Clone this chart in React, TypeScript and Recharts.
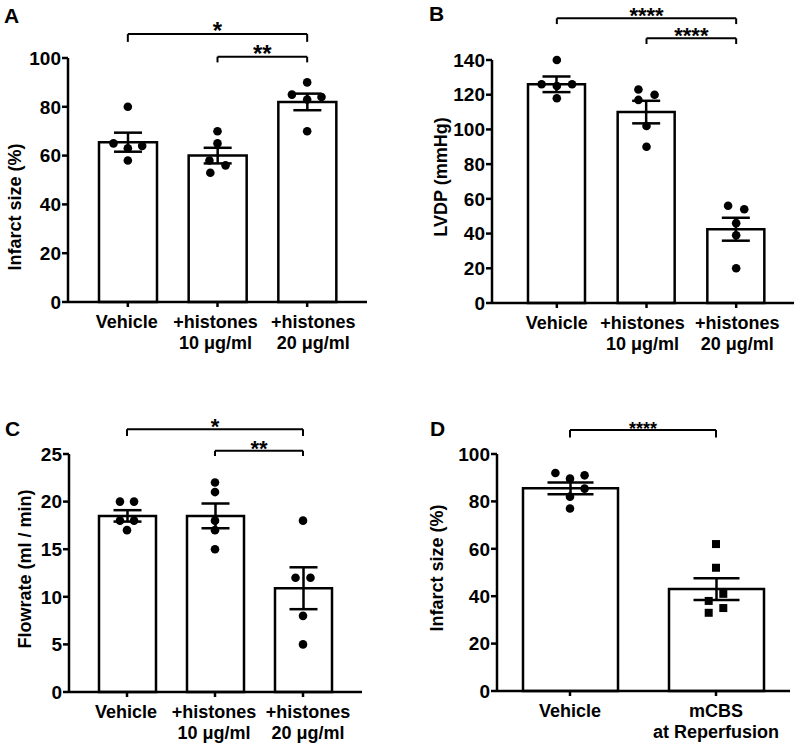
import React from "react";
import {
    ComposedChart,
    Bar,
    ErrorBar,
    Scatter,
    XAxis,
    YAxis,
    ReferenceLine,
} from "recharts";

const FONT = '"Liberation Sans", Arial, Helvetica, sans-serif';

// groups on the x axis
const histoneGroups = ["Vehicle", "+histones\n10 μg/ml", "+histones\n20 μg/ml"];
const mcbsGroups = ["Vehicle", "mCBS\nat Reperfusion"];

// A - infarct size (%)
const infarctMeans = [65.5, 60, 82];
const infarctSems = [3.9, 3.2, 3.4];
const infarctPoints = [
    [80, 65, 63, 64, 58],
    [70, 65, 58, 56, 53],
    [90, 85, 84, 83, 70],
];
const infarctJitter = [
    [0, -0.16, 0, 0.16, 0],
    [0, 0, -0.09, 0.09, -0.08],
    [0, -0.17, 0.16, 0, 0],
];
const infarctTicks = [0, 20, 40, 60, 80, 100];

// B - LVDP (mmHg)
const lvdpMeans = [126, 110, 42.5];
const lvdpSems = [4.5, 6.5, 6.6];
const lvdpPoints = [
    [140, 126, 125, 126, 118],
    [123, 120, 117, 102, 90],
    [56, 54, 46, 39, 20],
];
const lvdpJitter = [
    [0, -0.17, 0, 0.17, 0],
    [-0.09, 0.09, -0.09, 0, 0],
    [-0.09, 0.09, 0, 0, 0],
];
const lvdpTicks = [0, 20, 40, 60, 80, 100, 120, 140];

// C - flowrate (ml / min)
const flowMeans = [18.5, 18.5, 10.9];
const flowSems = [0.6, 1.3, 2.2];
const flowPoints = [
    [20, 20, 18, 18, 17],
    [22, 21, 18, 17, 15],
    [18, 12, 12, 8, 5],
];
const flowJitter = [
    [-0.08, 0.08, -0.08, 0.08, 0],
    [0, 0, 0, 0, 0],
    [0, -0.085, 0.085, 0, 0],
];
const flowTicks = [0, 5, 10, 15, 20, 25];

// D - infarct size (%), mCBS
const mcbsMeans = [85.5, 43];
const mcbsSems = [2.5, 4.6];
const mcbsPoints = [
    [92, 91, 89.6, 85.4, 82, 77],
    [62, 52, 41, 38, 35, 33],
];
const mcbsJitter = [
    [-0.1, 0.1, 0, 0.1, 0, 0],
    [0, 0, 0.05, -0.05, 0.05, -0.05],
];
const mcbsTicks = [0, 20, 40, 60, 80, 100];

type Bracket = { from: number; to: number; y: number; end: number; text: string };

// x tick label, can be nudged sideways so neighbouring labels don't collide
const makeTick = (shift: number[]) => ({ x, y, payload, index }: any) => {
    const lines = String(payload.value).split("\n");
    const cx = x + (shift[index] || 0);
    return (
        <text x={cx} y={y} textAnchor="middle" fontSize={18} fontWeight={700} fill="#000">
            {lines.map((l, i) => (
                <tspan key={i} x={cx} dy={i === 0 ? 19 : 21}>
                    {l}
                </tspan>
            ))}
        </text>
    );
};

const dot = (p: any) => <circle cx={p.cx} cy={p.cy} r={4.3} fill="#000" />;
const square = (p: any) => <rect x={p.cx - 4} y={p.cy - 4} width={8} height={8} fill="#000" />;

interface PanelProps {
    left: number;
    top: number;
    letter: string;
    letterX: number;
    letterY: number;
    yLabel: string;
    titleX: number;
    titleY: number;
    groups: string[];
    means: number[];
    sems: number[];
    points: number[][];
    jitter: number[][];
    markers: string[];
    ticks: number[];
    brackets: Bracket[];
    plot: { l: number; r: number; t: number; b: number };
    pad: { left: number; right: number };
    labelShift: number[];
    barSize: number;
    cap: number;
    starSize: number;
}

const W = 400;
const H = 377;
const XH = 40;

function Panel(p: PanelProps) {
    const data = p.groups.map((g, i) => ({ name: g, mean: p.means[i], sem: p.sems[i] }));
    const n = p.groups.length;
    const yMax = p.ticks[p.ticks.length - 1];
    const Tick = makeTick(p.labelShift);
    return (
        <div style={{ position: "absolute", left: p.left, top: p.top, width: W, height: H }}>
            <div
                style={{
                    position: "absolute",
                    left: p.letterX,
                    top: p.letterY,
                    fontSize: 21,
                    fontWeight: 700,
                    lineHeight: 1,
                }}
            >
                {p.letter}
            </div>
            <div
                style={{
                    position: "absolute",
                    left: p.titleX,
                    top: p.titleY,
                    transform: "translate(-50%, -50%) rotate(-90deg)",
                    fontSize: 18,
                    fontWeight: 700,
                    whiteSpace: "nowrap",
                    lineHeight: 1,
                }}
            >
                {p.yLabel}
            </div>
            <ComposedChart
                width={W}
                height={H}
                data={data}
                margin={{ top: p.plot.t, right: W - p.plot.r, bottom: H - p.plot.b - XH, left: 0 }}
            >
                <XAxis
                    xAxisId="cat"
                    dataKey="name"
                    type="category"
                    height={XH}
                    padding={p.pad}
                    axisLine={{ stroke: "#000", strokeWidth: 2.5 }}
                    tickLine={{ stroke: "#000", strokeWidth: 2.5 }}
                    tickSize={5}
                    tickMargin={2}
                    interval={0}
                    tick={<Tick />}
                />
                <XAxis
                    xAxisId="num"
                    dataKey="x"
                    type="number"
                    hide
                    domain={[-0.5, n - 0.5]}
                    padding={p.pad}
                />
                <YAxis
                    width={p.plot.l}
                    domain={[0, yMax]}
                    ticks={p.ticks}
                    axisLine={{ stroke: "#000", strokeWidth: 2.5 }}
                    tickLine={{ stroke: "#000", strokeWidth: 2.5 }}
                    tickSize={6}
                    tickMargin={1}
                    tick={{ fill: "#000", fontSize: 19, fontWeight: 700 }}
                />
                <Bar
                    xAxisId="cat"
                    dataKey="mean"
                    fill="#fff"
                    stroke="#000"
                    strokeWidth={2.5}
                    barSize={p.barSize}
                    isAnimationActive={false}
                >
                    <ErrorBar
                        dataKey="sem"
                        width={p.cap}
                        stroke="#000"
                        strokeWidth={2.5}
                        direction="y"
                        isAnimationActive={false}
                    />
                </Bar>
                {p.points.map((vals, g) => (
                    <Scatter
                        key={g}
                        xAxisId="num"
                        dataKey="y"
                        data={vals.map((v, i) => ({ x: g + p.jitter[g][i], y: v }))}
                        shape={p.markers[g] === "square" ? square : dot}
                        isAnimationActive={false}
                    />
                ))}
                {p.brackets.map((b, i) => [
                    <ReferenceLine
                        key={`h${i}`}
                        xAxisId="num"
                        ifOverflow="visible"
                        segment={[
                            { x: b.from, y: b.y },
                            { x: b.to, y: b.y },
                        ]}
                        stroke="#000"
                        strokeWidth={2}
                        label={{
                            value: b.text,
                            position: "top",
                            offset: -5,
                            fontSize: p.starSize,
                            fontWeight: 700,
                            fill: "#000",
                        }}
                    />,
                    <ReferenceLine
                        key={`l${i}`}
                        xAxisId="num"
                        ifOverflow="visible"
                        segment={[
                            { x: b.from, y: b.y },
                            { x: b.from, y: b.end },
                        ]}
                        stroke="#000"
                        strokeWidth={2}
                    />,
                    <ReferenceLine
                        key={`r${i}`}
                        xAxisId="num"
                        ifOverflow="visible"
                        segment={[
                            { x: b.to, y: b.y },
                            { x: b.to, y: b.end },
                        ]}
                        stroke="#000"
                        strokeWidth={2}
                    />,
                ])}
            </ComposedChart>
        </div>
    );
}

export default function App() {
    return (
        <div
            style={{
                position: "absolute",
                left: 0,
                top: 0,
                width: 800,
                height: 754,
                background: "#fff",
                fontFamily: FONT,
                color: "#000",
            }}
        >
            <Panel
                left={0}
                top={0}
                letter="A"
                letterX={4}
                letterY={5}
                yLabel="Infarct size  (%)"
                titleX={15}
                titleY={207}
                groups={histoneGroups}
                means={infarctMeans}
                sems={infarctSems}
                points={infarctPoints}
                jitter={infarctJitter}
                markers={["circle", "circle", "circle"]}
                ticks={infarctTicks}
                brackets={[
                    { from: 0, to: 2, y: 109.8, end: 106.6, text: "*" },
                    { from: 1, to: 2, y: 100.5, end: 98.2, text: "**" },
                ]}
                plot={{ l: 68, r: 367, t: 58, b: 302 }}
                pad={{ left: 15, right: 15 }}
                labelShift={[-1, -2, 6]}
                barSize={58}
                cap={14}
                starSize={24}
            />
            <Panel
                left={400}
                top={0}
                letter="B"
                letterX={29}
                letterY={3}
                yLabel="LVDP (mmHg)"
                titleX={41}
                titleY={177}
                groups={histoneGroups}
                means={lvdpMeans}
                sems={lvdpSems}
                points={lvdpPoints}
                jitter={lvdpJitter}
                markers={["circle", "circle", "circle"]}
                ticks={lvdpTicks}
                brackets={[
                    { from: 0, to: 2, y: 164, end: 160.7, text: "****" },
                    { from: 1, to: 2, y: 152.5, end: 149.2, text: "****" },
                ]}
                plot={{ l: 92, r: 394, t: 60, b: 303 }}
                pad={{ left: 20, right: 13 }}
                labelShift={[0, -4, 1]}
                barSize={57}
                cap={14}
                starSize={22}
            />
            <Panel
                left={0}
                top={377}
                letter="C"
                letterX={5}
                letterY={41}
                yLabel="Flowrate (ml / min)"
                titleX={25}
                titleY={192}
                groups={histoneGroups}
                means={flowMeans}
                sems={flowSems}
                points={flowPoints}
                jitter={flowJitter}
                markers={["circle", "circle", "circle"]}
                ticks={flowTicks}
                brackets={[
                    { from: 0, to: 2, y: 27.6, end: 26.9, text: "*" },
                    { from: 1, to: 2, y: 25.35, end: 24.8, text: "**" },
                ]}
                plot={{ l: 69, r: 362, t: 77, b: 315 }}
                pad={{ left: 14, right: 15 }}
                labelShift={[-1, -1, 5]}
                barSize={57}
                cap={14}
                starSize={22}
            />
            <Panel
                left={400}
                top={377}
                letter="D"
                letterX={30}
                letterY={41}
                yLabel="Infarct size (%)"
                titleX={37}
                titleY={191}
                groups={mcbsGroups}
                means={mcbsMeans}
                sems={mcbsSems}
                points={mcbsPoints}
                jitter={mcbsJitter}
                markers={["circle", "square"]}
                ticks={mcbsTicks}
                brackets={[{ from: 0, to: 1, y: 110.1, end: 107, text: "****" }]}
                plot={{ l: 97, r: 390, t: 77, b: 314 }}
                pad={{ left: 0, right: 1 }}
                labelShift={[0, 0]}
                barSize={95}
                cap={23}
                starSize={18}
            />
        </div>
    );
}
